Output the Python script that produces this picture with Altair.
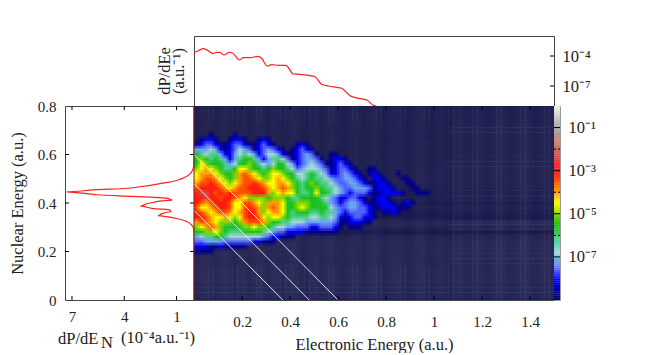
import altair as alt
import pandas as pd

FONT = "Liberation Serif"
INK = "#222222"
FRAME = "#444444"
RED = "#ff2020"
TICK_SIZE = 15
EXP_SIZE = 16.5
TITLE_SIZE = 16.5

# ---------- top panel: dP/dEe ----------
top_e = [0.0, 0.018, 0.039, 0.06, 0.078, 0.094, 0.108, 0.125, 0.147, 0.161, 0.189, 0.205, 0.233, 0.268, 0.282,
         0.305, 0.324, 0.351, 0.383, 0.414, 0.442, 0.483, 0.504, 0.532, 0.56, 0.615, 0.65, 0.685, 0.72, 0.747, 0.757, 0.775]
top_log = [-3.63, -3.47, -3.27, -3.47, -3.77, -3.63, -3.63, -3.9, -3.63, -3.7, -4.4, -4.17, -4.17, -4.03, -4.23,
           -5.0, -4.87, -4.93, -4.93, -5.8, -5.83, -5.97, -6.07, -6.83, -7.0, -7.23, -7.97, -8.23, -8.4, -8.93, -9.0, -9.3]

# ---------- left panel: dP/dEN ----------
left_v = [0, 0, 0.03, 0.16, 0.45, 0.93, 1.59, 2.07, 1.87, 1.30, 1.4, 2.35, 3.07, 2.73, 1.25, 1.5, 3.5, 5.59, 7.3,
          5.78, 3.5, 1.78, 0.83, 0.26, 0.03, 0, 0]
left_e = [0, 0.277, 0.298, 0.311, 0.325, 0.335, 0.344, 0.348, 0.355, 0.364, 0.372, 0.377, 0.387, 0.397, 0.412, 0.419,
          0.427, 0.434, 0.446, 0.454, 0.463, 0.482, 0.497, 0.518, 0.545, 0.593, 0.8]

# ---------- main map: one string per row, 0.02 a.u. cells ----------
levels = {"1": -8.8, "2": -8.1, "3": -7.6, "4": -7.2, "5": -6.8, "6": -6.2, "7": -5.6,
          "8": -5.0, "9": -4.5, "a": -4.0, "b": -3.5, "c": -3.05, "d": -2.4}
map_first_row = 0.20
map_rows = [
    "1111....................." + ".........................",  # 0.20
    "22211211111.............." + ".........................",  # 0.22
    "33444433333322111........" + ".........................",  # 0.24
    "45667765555555" + "4322111" + "...." + ".........................",  # 0.26
    "7788987666777765433222211" + "11111....................",  # 0.28
    "89aba87777889887655443332" + "233321.111...............",  # 0.30
    "abba988878abbba8776655544" + "444431122211.............",  # 0.32
    "ccba99a989bccb98998766665" + "5665421233221............",  # 0.34
    "cba9abba9abcca89aa9767776" + "6766432333321.1121.......",  # 0.36
    "b99abccb99bcba8aba9778987" + "77754334433211222111.....",  # 0.38
    "cbabcccb99bba98aaa9778887" + "77643234432112221.121....",  # 0.40
    "ccdccbccba988887888766777" + "76543223321.1221.........",  # 0.42
    "cddcbcbcbbbbccca89a997667" + "9776543233321122221..111.",  # 0.44
    "bccccba9abbcccba9aba87677" + "87665433444312221...11...",  # 0.46
    "abbcba989abbcba99aa987678" + "7665433443211221...11....",  # 0.48
    "9abba9878abba9889a9876567" + "66543344321.221...11.....",  # 0.50
    "9aaa98778aba9878998775567" + "6542234321.121...1.......",  # 0.52
    "89a9876679987767877653455" + "543123321..11............",  # 0.54
    "7987776457787654577542345" + "43112321.................",  # 0.56
    "7876764246776424665312344" + "31.1221..................",  # 0.58
    "7656642245654235542112343" + "1..11....................",  # 0.60
    "4445421235431234321.12321" + ".........................",  # 0.62
    "1233211233211232" + "1....121." + ".........................",  # 0.64
    ".1221..1221..121........." + ".........................",  # 0.66
    "...1....1................" + ".........................",  # 0.68
]
# background stripes behind the map
bg_rows = [-9.75, -9.62, -9.55, -9.55, -9.5, -9.5, -9.5, -9.55, -9.55, -9.5, -9.5, -9.5, -9.5, -9.6, -9.95,
           -9.6, -9.5, -9.9, -9.85, -9.7, -9.85, -9.7, -9.78, -9.7, -9.7, -9.65, -9.65, -9.68, -9.7, -9.7,
           -9.72, -9.72, -9.7, -9.72, -9.75, -9.7, -9.72, -9.75, -9.75, -9.78, -9.85]
bg_cols = [-9.7, -9.6, -9.55, -9.6, -9.7, -9.6, -9.5, -9.6, -9.7, -9.6, -9.55, -9.7, -9.6, -9.5, -9.6,
           -9.7, -9.55, -9.6, -9.7, -9.6, -9.5, -9.55, -9.7, -9.75, -9.6, -9.55, -9.7, -9.6, -9.5, -9.65,
           -9.7, -9.75, -9.6, -9.55, -9.65, -9.7, -9.6, -9.5, -9.6, -9.75, -9.7, -9.6, -9.55, -9.65, -9.75,
           -9.7, -9.55, -9.5, -9.7, -9.75, -9.65, -9.6, -9.7, -9.75, -9.6, -9.55, -9.7, -9.7, -9.6, -9.6,
           -9.7, -9.75, -9.6, -9.5, -9.6, -9.7, -9.7, -9.6, -9.5, -9.55, -9.7, -9.75, -9.6, -9.6, -9.7]

line_totals = [0.37, 0.48, 0.6]

# ---------- colour map ----------
color_domain = [-10, -9.5, -9.2, -9, -8, -7.3, -6.8, -6, -5.5, -5, -4.5, -4, -3.5, -3, -2.3, -1, 0]
color_range = ["#0e0e45", "#2e2f5c", "#2e2f5c", "#000070", "#0000ff", "#8090f0", "#a8d8d8", "#50c860", "#00c000",
               "#80d800", "#ffff00", "#ffa000", "#ff5000", "#ff1010", "#d85050", "#a8a8a8", "#f0f0f0"]
color_scale = alt.Scale(domain=color_domain, range=color_range, clamp=True)

# ---------- tick values ----------
main_x_ticks = [0.2, 0.4, 0.6, 0.8, 1, 1.2, 1.4]
y_ticks = [0, 0.2, 0.4, 0.6, 0.8]
left_x_ticks = [7, 4, 1]
top_y_ticks = [1e-4, 1e-7]
bar_ticks = [-1, -3, -5, -7]
bar_minor = [-2, -4, -6]

X_MAIN = alt.Scale(domain=[0, 1.5], nice=False, zero=False)
Y_MAIN = alt.Scale(domain=[0, 0.8], nice=False, zero=False)
X_LEFT = alt.Scale(domain=[7.4, 0], nice=False, zero=False)
Y_TOP = alt.Scale(type="log", domain=[1e-9, 1e-2], nice=False)
Y_BAR = alt.Scale(domain=[-9, 0], nice=False, zero=False)

W_LEFT, W_MAIN, W_BAR = 129, 360, 6
H_TOP, H_MAIN = 70, 194


def view(color):
    return alt.ViewBackground(stroke=color, strokeWidth=1)


def label_style(size=TICK_SIZE):
    return dict(labelFont=FONT, labelFontSize=size, labelColor=INK, titleFont=FONT, titleFontSize=TITLE_SIZE,
                titleColor=INK, titleFontWeight="normal", grid=False, domain=False, ticks=False)


AX_TOP_Y = alt.Axis(orient="right", values=top_y_ticks, title=None, labelPadding=8,
                    labelExpr="datum.value < 1e-5 ? '10⁻⁷' : '10⁻⁴'", **label_style(EXP_SIZE))
AX_LEFT_X = alt.Axis(values=left_x_ticks, title=None, labelPadding=9, format="d", **label_style())
AX_LEFT_Y = alt.Axis(values=y_ticks, title="Nuclear Energy (a.u.)", labelPadding=9, titlePadding=12, format="~g",
                     **label_style())
AX_MAIN_X = alt.Axis(values=main_x_ticks, title="Electronic Energy (a.u.)", labelPadding=14, titlePadding=7,
                     format="~g", **label_style())
AX_BAR_Y = alt.Axis(orient="right", values=bar_ticks, title=None, labelPadding=8,
                    labelExpr="datum.value == -1 ? '10⁻¹' : datum.value == -3 ? '10⁻³' : datum.value == -5 ? '10⁻⁵' : '10⁻⁷'",
                    **label_style(EXP_SIZE))


def vticks(values, scale, axis, y0, y1, color="black"):
    return alt.Chart(pd.DataFrame({"v": values})).mark_rule(color=color, strokeWidth=1).encode(
        x=alt.X("v:Q", scale=scale, axis=axis), y=alt.value(y0), y2=alt.value(y1))


def hticks(values, scale, axis, x0, x1, color="black", dash=None):
    kw = dict(color=color, strokeWidth=1)
    if dash:
        kw["strokeDash"] = dash
    return alt.Chart(pd.DataFrame({"v": values})).mark_rule(**kw).encode(
        y=alt.Y("v:Q", scale=scale, axis=axis), x=alt.value(x0), x2=alt.value(x1))


def label(text, x, y, angle=0, align="left", size=TITLE_SIZE):
    return alt.Chart(pd.DataFrame({"t": [text]})).mark_text(
        font=FONT, fontSize=size, color=INK, align=align, baseline="middle", angle=angle).encode(
        x=alt.value(x), y=alt.value(y), text="t:N")


def blank(w, h):
    return alt.Chart(pd.DataFrame({"a": [0]})).mark_point(opacity=0).encode(
        x=alt.value(0), y=alt.value(0)).properties(width=w, height=h, view=view("transparent"))


# ---------- top ----------
top_df = pd.DataFrame({"e": top_e, "p": [10 ** v for v in top_log]})
top_line = alt.Chart(top_df).mark_line(color=RED, strokeWidth=1.2, clip=True, interpolate="monotone").encode(
    x=alt.X("e:Q", scale=X_MAIN, axis=None),
    y=alt.Y("p:Q", scale=Y_TOP, axis=AX_TOP_Y))
top = alt.layer(
    top_line,
    hticks(top_y_ticks, Y_TOP, AX_TOP_Y, W_MAIN - 4, W_MAIN),
    label("dP/dEe", -29, 35, angle=270, align="center"),
    label("(a.u.⁻¹)", -15, 35, angle=270, align="center"),
).properties(width=W_MAIN, height=H_TOP, view=view(FRAME))

# ---------- left ----------
left_df = pd.DataFrame({"v": left_v, "e": left_e})
left_line = alt.Chart(left_df).mark_line(color=RED, strokeWidth=1.2, interpolate="monotone", order=False).encode(
    x=alt.X("v:Q", scale=X_LEFT, axis=AX_LEFT_X),
    y=alt.Y("e:Q", scale=Y_MAIN, axis=AX_LEFT_Y),
    order=alt.Order("e:Q"))
left = alt.layer(
    left_line,
    hticks(y_ticks[1:-1], Y_MAIN, AX_LEFT_Y, 0, 4),
    hticks(y_ticks[1:-1], Y_MAIN, AX_LEFT_Y, W_LEFT - 4, W_LEFT),
    vticks(left_x_ticks, X_LEFT, AX_LEFT_X, 0, 4),
    vticks(left_x_ticks, X_LEFT, AX_LEFT_X, H_MAIN - 4, H_MAIN),
    label("dP/dE", -7, 233),
    label("N", 36, 237),
    label("(10⁻⁴a.u.⁻¹)", 56, 232),
).properties(width=W_LEFT, height=H_MAIN, view=view(FRAME))

# ---------- main ----------
cells = []
for j, bg_r in enumerate(bg_rows):
    for i, bg_c in enumerate(bg_cols):
        cells.append({"i": i, "j": j, "x": i * 0.02, "x2": (i + 1) * 0.02 + 0.002,
                      "y": round(j * 0.02 - 0.01, 3), "y2": round(j * 0.02 + 0.012, 3),
                      "c": (bg_r + bg_c) / 2})
first_j = round(map_first_row / 0.02)
for r, row in enumerate(map_rows):
    for i, ch in enumerate(row):
        if ch != ".":
            k = (first_j + r) * len(bg_cols) + i
            cells[k]["c"] = levels[ch]
cell_df = pd.DataFrame(cells)

X_ENC = alt.X("x:Q", scale=X_MAIN, axis=AX_MAIN_X)
Y_ENC = alt.Y("y:Q", scale=Y_MAIN, axis=None)
COLOR_ENC = alt.Color("c:Q", scale=color_scale, legend=None)

heat = alt.Chart(cell_df).mark_rect(clip=True).encode(x=X_ENC, x2="x2:Q", y=Y_ENC, y2="y2:Q", color=COLOR_ENC)

# soften the cell edges: the same cells are painted again a quarter cell aside, each coat more transparent
blob_df = cell_df[(cell_df.j >= first_j - 2) & (cell_df.j <= first_j + len(map_rows) + 1) & (cell_df.i <= 52)]
coats = []
for dx, dy, alpha in [(-0.005, -0.005, 1), (0.005, -0.005, 0.5), (-0.005, 0.005, 0.333), (0.005, 0.005, 0.25)]:
    d = blob_df.copy()
    d["x"] = (d.x + dx).round(4)
    d["x2"] = (d.x2 + dx).round(4)
    d["y"] = (d.y + dy).round(4)
    d["y2"] = (d.y2 + dy).round(4)
    coats.append(alt.Chart(d[["x", "x2", "y", "y2", "c"]]).mark_rect(clip=True, opacity=alpha).encode(
        x=X_ENC, x2="x2:Q", y=Y_ENC, y2="y2:Q", color=COLOR_ENC))

lines_df = pd.DataFrame(
    [{"n": t, "x": 0, "y": t} for t in line_totals] + [{"n": t, "x": t, "y": 0} for t in line_totals])
white = alt.Chart(lines_df).mark_line(color="white", strokeWidth=1, opacity=0.85).encode(
    x=alt.X("x:Q", scale=X_MAIN, axis=AX_MAIN_X), y=alt.Y("y:Q", scale=Y_MAIN, axis=None), detail="n:N")

main = alt.layer(
    heat, *coats, white,
    vticks([0], X_MAIN, AX_MAIN_X, 0, H_MAIN, color="#8a1010"),
    vticks(main_x_ticks, X_MAIN, AX_MAIN_X, 0, 4),
    vticks(main_x_ticks, X_MAIN, AX_MAIN_X, H_MAIN - 4, H_MAIN),
).properties(width=W_MAIN, height=H_MAIN, view=view(FRAME))

# ---------- colour bar ----------
bar_edges = [v / 10 for v in range(-90, 0)]
bar_df = pd.DataFrame({"y": bar_edges, "y2": [v + 0.11 for v in bar_edges], "c": [v + 0.05 for v in bar_edges]})
bar_rect = alt.Chart(bar_df).mark_rect(clip=True).encode(
    y=alt.Y("y:Q", scale=Y_BAR, axis=AX_BAR_Y),
    y2="y2:Q",
    x=alt.value(0), x2=alt.value(W_BAR),
    color=alt.Color("c:Q", scale=color_scale, legend=None))
bar = alt.layer(
    bar_rect,
    hticks(bar_ticks, Y_BAR, AX_BAR_Y, 0, W_BAR),
    hticks(bar_minor, Y_BAR, AX_BAR_Y, 0, W_BAR, dash=[2, 2]),
).properties(width=W_BAR, height=H_MAIN, view=view("#999999"))

chart = alt.concat(
    blank(W_LEFT, H_TOP), top, blank(W_BAR, H_TOP),
    left, main, bar,
    columns=3, spacing=0, bounds="flush",
).resolve_scale(color="independent", x="independent", y="independent").properties(
    padding={"left": 0, "top": 24, "right": 0, "bottom": 0},
    background="white",
)

chart.save("out.html", embed_options={"renderer": "svg", "actions": False})
